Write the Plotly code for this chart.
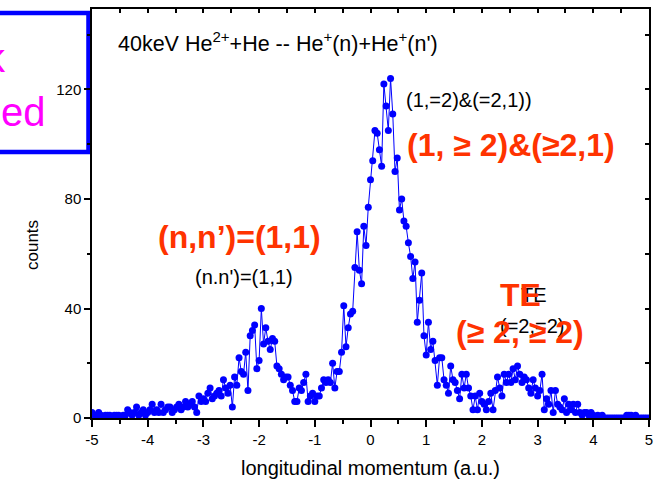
import numpy as np
import plotly.graph_objects as go

# Longitudinal momentum bins (a.u.), 0.04 a.u. wide, from -5 to 5
momentum = np.round(-5 + 0.04 * np.arange(251), 2)

# Counts per bin, one list per unit of momentum
counts_m5 = [2, 1, 1, 2, 1, 0, 1, 1, 1, 0, 1, 1, 1, 0, 1, 1, 3, 2, 1, 2, 4, 1, 2, 3, 1]
counts_m4 = [2, 3, 5, 2, 3, 2, 5, 2, 3, 4, 4, 2, 3, 4, 5, 3, 4, 6, 4, 5, 6, 4, 2, 8, 6]
counts_m3 = [7, 6, 9, 11, 7, 8, 9, 10, 8, 14, 11, 9, 12, 4, 15, 12, 22, 17, 16, 24, 10, 30, 32, 34, 18]
counts_m2 = [21, 40, 27, 33, 28, 25, 29, 28, 19, 18, 16, 14, 15, 15, 12, 10, 6, 6, 11, 10, 13, 16, 6, 8, 9]
counts_m1 = [6, 8, 8, 11, 14, 13, 14, 13, 20, 11, 17, 17, 24, 41, 26, 33, 38, 39, 55, 68, 54, 49, 70, 63, 77]
counts_p0 = [87, 94, 105, 104, 98, 92, 122, 114, 105, 124, 111, 90, 95, 76, 80, 72, 70, 64, 59, 51, 57, 35, 43, 53, 30]
counts_p1 = [23, 35, 25, 28, 21, 12, 22, 22, 14, 12, 9, 19, 14, 13, 10, 7, 16, 11, 16, 11, 8, 3, 8, 3, 9]
counts_p2 = [6, 5, 3, 6, 9, 3, 10, 15, 11, 8, 16, 13, 16, 13, 18, 14, 19, 16, 13, 15, 14, 11, 9, 14, 11]
counts_p3 = [8, 10, 16, 3, 7, 5, 10, 2, 10, 5, 4, 3, 7, 2, 5, 3, 5, 2, 5, 2, 1, 2, 2, 1, 2]
counts_p4 = [1, 0, 1, 0, 1, 0, 0, 0, 0, 0, 0, 0, 0, 0, 0, 1, 1, 1, 0, 1, 0, 0, 0, 0, 0, 0]

counts = (counts_m5 + counts_m4 + counts_m3 + counts_m2 + counts_m1
          + counts_p0 + counts_p1 + counts_p2 + counts_p3 + counts_p4)

x_tick_values = [-5, -4, -3, -2, -1, 0, 1, 2, 3, 4, 5]
x_tick_labels = ["-5", "-4", "-3", "-2", "-1", "0", "1", "2", "3", "4", "5"]
y_tick_values = [0, 40, 80, 120]

FONT = "Arial, 'Liberation Sans', sans-serif"
BLUE = "#0000FF"
RED = "#FF3300"
MAGENTA = "#FF00FF"

fig = go.Figure()

fig.add_trace(go.Scatter(
    x=momentum, y=counts, mode="lines+markers",
    line=dict(color=BLUE, width=1),
    marker=dict(color=BLUE, size=7, symbol="circle"),
    showlegend=False, hoverinfo="x+y",
))

# empty trace so the mirrored top/right axes get drawn
fig.add_trace(go.Scatter(x=[], y=[], xaxis="x2", yaxis="y2",
                         showlegend=False, hoverinfo="skip"))

axis_line = dict(showline=True, linecolor="black", linewidth=1.5,
                 showgrid=False, zeroline=False)

fig.update_layout(
    width=658, height=482,
    margin=dict(l=92, r=9, t=9, b=64, autoexpand=False),
    paper_bgcolor="white", plot_bgcolor="white",
    font=dict(family=FONT, color="black"),
    xaxis=dict(
        range=[-5, 5], tickmode="array", tickvals=x_tick_values, ticktext=x_tick_labels,
        ticks="outside", ticklen=7, tickwidth=1.5, tickcolor="black",
        minor=dict(dtick=0.5, ticks="outside", ticklen=4, tickwidth=1.5, tickcolor="black"),
        tickfont=dict(size=15, family=FONT),
        automargin=False, **axis_line,
    ),
    yaxis=dict(
        range=[0, 149.4], tickmode="array", tickvals=y_tick_values,
        ticks="outside", ticklen=6, tickwidth=1.5, tickcolor="black",
        minor=dict(dtick=20, ticks="outside", ticklen=3, tickwidth=1.5, tickcolor="black"),
        tickfont=dict(size=15, family=FONT),
        automargin=False, **axis_line,
    ),
    xaxis2=dict(
        overlaying="x", side="top", range=[-5, 5], dtick=0.5, tick0=-5,
        ticks="inside", ticklen=4, tickwidth=1.5, tickcolor="black",
        showticklabels=False, **axis_line,
    ),
    yaxis2=dict(
        overlaying="y", side="right", range=[0, 149.4], dtick=20, tick0=0,
        ticks="inside", ticklen=4, tickwidth=1.5, tickcolor="black",
        showticklabels=False, **axis_line,
    ),
)

# axis titles
fig.add_annotation(text="longitudinal momentum (a.u.)", xref="paper", yref="paper",
                   x=0.5, y=-0.1222, xanchor="center", yanchor="middle", showarrow=False,
                   font=dict(size=20, family=FONT, color="black"))
fig.add_annotation(text="counts", xref="paper", yref="paper", textangle=-90,
                   x=-0.1059, y=0.423, xanchor="center", yanchor="middle", showarrow=False,
                   font=dict(size=17, family=FONT, color="black"))

# framed box at the upper left
fig.add_shape(type="rect", xref="paper", yref="paper",
              x0=-0.2, x1=-0.0063, y0=0.6504, y1=0.9902,
              line=dict(color=BLUE, width=4.5), fillcolor="white", layer="below")

annotations = [
    dict(text="40keV He<sup>2+</sup>+He -- He<sup>+</sup>(n)+He<sup>+</sup>(n')",
         x=-4.57, y=137.3, xanchor="left", font=dict(size=21.5, color="black")),
    dict(text="(1,=2)&(=2,1))", x=0.6, y=116, xanchor="left",
         font=dict(size=20, color="black")),
    dict(text="<b>(1, ≥ 2)&(≥2,1)</b>", x=0.62, y=99.7, xanchor="left",
         font=dict(size=32, color=RED)),
    dict(text="(n.n')=(1,1)", x=-2.28, y=51.5, font=dict(size=20, color="black")),
    dict(text="<b>(n,n’)=(1,1)</b>", x=-2.35, y=66, font=dict(size=32, color=RED)),
    dict(text="TE", x=2.94, y=44.9, font=dict(size=20, color="black")),
    dict(text="(=2,=2)", x=2.9, y=33.5, font=dict(size=20, color="black")),
    dict(text="<b>TE</b>", x=2.69, y=44.9, font=dict(size=32, color=RED)),
    dict(text="<b>(≥ 2, ≥ 2)</b>", x=2.68, y=31.5, font=dict(size=32, color=RED)),
]
for a in annotations:
    fig.add_annotation(xref="x", yref="y", showarrow=False, yanchor="middle",
                       font_family=FONT, **a)

fig.add_annotation(text="k", xref="paper", yref="paper", x=-0.1508, y=0.880,
                   xanchor="right", yanchor="middle", showarrow=False,
                   font=dict(size=40, color=MAGENTA, family=FONT))
fig.add_annotation(text="ed", xref="paper", yref="paper", x=-0.079, y=0.748,
                   xanchor="right", yanchor="middle", showarrow=False,
                   font=dict(size=40, color=MAGENTA, family=FONT))

fig.write_html("out.html")
